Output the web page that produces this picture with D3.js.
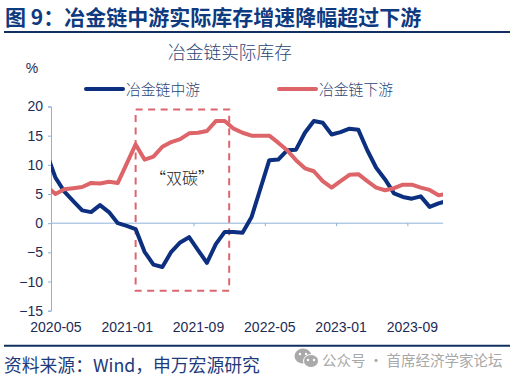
<!DOCTYPE html>
<html>
<head>
<meta charset="utf-8">
<script src="https://cdnjs.cloudflare.com/ajax/libs/d3/7.8.5/d3.min.js"></script>
<style>
  html, body { margin: 0; padding: 0; background: #fff; }
  svg { display: block; }
  text { font-family: "Noto Sans CJK SC", sans-serif; }
  .axis text { font-family: "Liberation Sans", Arial, sans-serif; font-size: 14px; fill: #1c2b55; }
</style>
</head>
<body>
<script>
const width = 520, height = 381;

// the first and last month sit outside the axis, their lines get clipped at the plot edge
const months = d3.range(0, 46).map(i => {
    const d = new Date(2020, 3 + i, 1);
    return d3.timeFormat("%Y-%m")(d);
});
const tickMonths = ["2020-05", "2021-01", "2021-09", "2022-05", "2023-01", "2023-09"];
const yTicks = [-15, -10, -5, 0, 5, 10, 15, 20];

const midstream = [12, 7.8, 5.4, 3.8, 2.2, 1.9, 3.1, 1.9, 0.0, -0.45, -1.0, -4.9, -7.1, -7.5, -4.9, -3.3,
    -2.4, -4.6, -6.8, -3.6, -1.5, -1.5, -1.65, 1.0, 5.9, 10.8, 10.9, 12.5, 12.6, 15.5, 17.5, 17.2,
    15.2, 15.6, 16.2, 16, 12.5, 9.5, 7.5, 5.1, 4.5, 4.2, 4.6, 2.8, 3.4, 3.8];
const downstream = [6.3, 5.0, 5.8, 6.0, 6.2, 6.9, 6.8, 7.1, 6.9, 10.2, 13.5, 10.9, 11.4, 13.1, 13.9, 14.4,
    15.4, 15.5, 15.8, 17.5, 17.5, 16.2, 15.5, 15, 15, 15, 13.8, 12.5, 10.8, 9.4, 8.9, 7.2,
    6.1, 7.2, 8.3, 8.4, 7.2, 6.1, 5.65, 6.0, 6.6, 6.6, 6.1, 5.7, 4.8, 5.0];

const seriesNames = ["冶金链中游", "冶金链下游"];
const seriesColors = ["#0c2f80", "#dd6468"];
const boxMonths = ["2021-02", "2021-12"];
const boxValues = [19.5, -11.6];

const plotLeft = 51, plotRight = 443, plotTop = 106.5, plotBottom = 310.7;
const step = (plotRight - plotLeft) / 44;

const x = d3.scalePoint()
    .domain(months)
    .range([plotLeft - step / 2, plotRight + step / 2]);

const y = d3.scaleLinear()
    .domain([-15, 20])
    .range([plotBottom, plotTop]);

const svg = d3.select("body")
    .append("svg")
    .attr("width", width)
    .attr("height", height);

svg.append("defs").append("clipPath")
    .attr("id", "plotClip")
    .append("rect")
    .attr("x", plotLeft)
    .attr("y", plotTop - 5)
    .attr("width", plotRight - plotLeft)
    .attr("height", plotBottom - plotTop + 10);

// heading and rules
svg.append("text")
    .attr("x", 5)
    .attr("y", 25)
    .attr("font-size", 21)
    .attr("font-weight", 700)
    .attr("fill", "#0e3a80")
    .text("图 9：冶金链中游实际库存增速降幅超过下游");

[32, 345.7].forEach(ry => {
    svg.append("line")
        .attr("x1", 4).attr("x2", 510)
        .attr("y1", ry).attr("y2", ry)
        .attr("stroke", "#12305f")
        .attr("stroke-width", 2);
});

svg.append("text")
    .attr("x", 230)
    .attr("y", 59)
    .attr("text-anchor", "middle")
    .attr("font-size", 17.7)
    .attr("font-weight", 300)
    .attr("fill", "#2a4475")
    .text("冶金链实际库存");

svg.append("text")
    .attr("x", 32)
    .attr("y", 73)
    .attr("text-anchor", "middle")
    .style("font-family", "Liberation Sans")
    .attr("font-size", 14)
    .attr("fill", "#1c2b55")
    .text("%");

// legend
const legendX = [86, 279];
seriesNames.forEach((name, i) => {
    svg.append("line")
        .attr("x1", legendX[i]).attr("x2", legendX[i] + 37)
        .attr("y1", 89).attr("y2", 89)
        .attr("stroke", seriesColors[i])
        .attr("stroke-width", 4)
        .attr("stroke-linecap", "round");
    svg.append("text")
        .attr("x", legendX[i] + 40)
        .attr("y", 95)
        .attr("font-size", 14.8)
        .attr("font-weight", 300)
        .attr("fill", "#2a4475")
        .text(name);
});

// axes
const yAxis = svg.append("g")
    .attr("class", "axis")
    .attr("transform", `translate(${plotLeft},0)`)
    .call(d3.axisLeft(y).tickValues(yTicks).tickSize(3).tickPadding(5).tickSizeOuter(3));
yAxis.selectAll("path, line").attr("stroke", "#8fb1d9");

const xAxis = svg.append("g")
    .attr("class", "axis")
    .attr("transform", `translate(0,${y(0)})`)
    .call(d3.axisBottom(x).tickValues(tickMonths).tickSize(3).tickSizeOuter(0));
xAxis.select("path")
    .attr("d", `M${plotLeft},0H${plotRight}`)
    .attr("stroke", "#8fb1d9");
// ticks fall on the edge of each month, labels stay in the middle
xAxis.selectAll("line")
    .attr("x1", -step / 2).attr("x2", -step / 2)
    .attr("stroke", "#8fb1d9");
xAxis.selectAll("text").attr("y", 0).attr("dy", plotBottom - y(0) + 21);

// "双碳" box
svg.append("rect")
    .attr("x", x(boxMonths[0]))
    .attr("y", y(boxValues[0]))
    .attr("width", x(boxMonths[1]) + step / 2 - x(boxMonths[0]))
    .attr("height", y(boxValues[1]) - y(boxValues[0]))
    .attr("fill", "none")
    .attr("stroke", "#dc6670")
    .attr("stroke-width", 2)
    .attr("stroke-dasharray", "7,5.5");

svg.append("text")
    .attr("x", 182)
    .attr("y", 184)
    .attr("text-anchor", "middle")
    .attr("font-size", 16)
    .attr("font-weight", 300)
    .attr("fill", "#222")
    .text("“双碳”");

// lines
const line = d3.line()
    .x((d, i) => x(months[i]))
    .y(d => y(d));

[midstream, downstream].forEach((values, i) => {
    svg.append("path")
        .datum(values)
        .attr("clip-path", "url(#plotClip)")
        .attr("fill", "none")
        .attr("stroke", seriesColors[i])
        .attr("stroke-width", 4)
        .attr("stroke-linejoin", "round")
        .attr("d", line);
});

// footer
svg.append("text")
    .attr("x", 4)
    .attr("y", 372)
    .attr("font-size", 17.8)
    .attr("fill", "#1d3a7c")
    .text("资料来源：Wind，申万宏源研究");

// watermark
const mark = svg.append("g").attr("fill", "#a9a9a9");
mark.append("ellipse").attr("cx", 303).attr("cy", 356).attr("rx", 8.5).attr("ry", 7.5);
mark.append("ellipse").attr("cx", 311).attr("cy", 361).attr("rx", 7.5).attr("ry", 6.5).attr("stroke", "#fff");
mark.selectAll("circle")
    .data([[300, 354], [306, 354], [308, 360], [314, 360]])
    .enter()
    .append("circle")
    .attr("cx", d => d[0]).attr("cy", d => d[1]).attr("r", 1.2)
    .attr("fill", "#fff");

svg.append("text")
    .attr("x", 322)
    .attr("y", 366)
    .attr("font-size", 14.5)
    .attr("fill", "#a8a8a8")
    .text("公众号 · 首席经济学家论坛");
</script>
</body>
</html>
